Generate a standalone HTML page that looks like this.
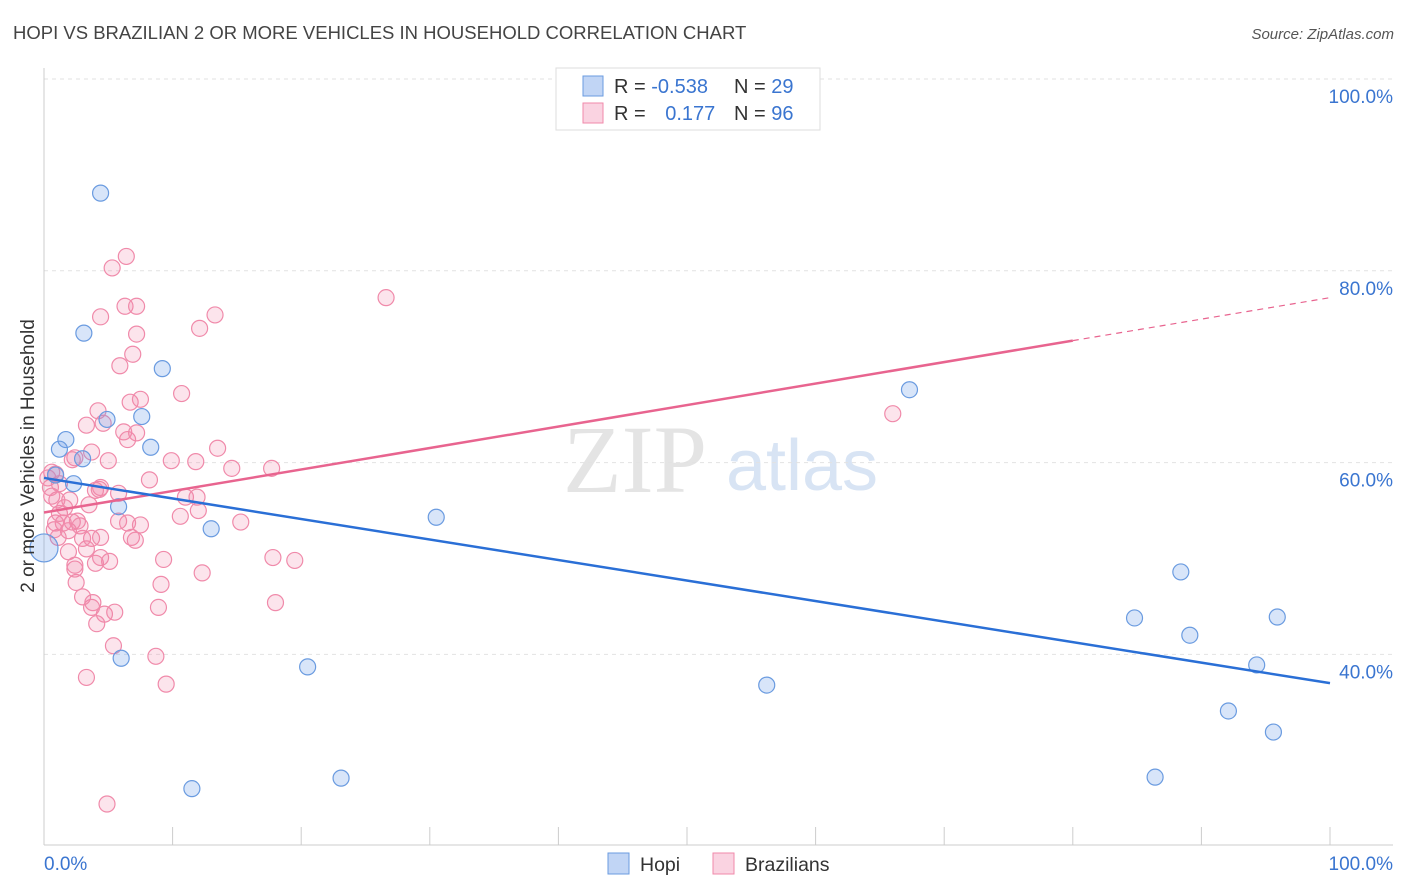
<!DOCTYPE html>
<html><head><meta charset="utf-8"><style>
body{margin:0;background:#fff;font-family:"Liberation Sans",sans-serif;}
svg{display:block}
</style></head><body>
<svg id="chart" width="1406" height="892" xmlns="http://www.w3.org/2000/svg">
<text x="13" y="39" font-size="18.5" fill="#444">HOPI VS BRAZILIAN 2 OR MORE VEHICLES IN HOUSEHOLD CORRELATION CHART</text>
<text x="1394" y="39" font-size="15" fill="#555" font-style="italic" text-anchor="end">Source: ZipAtlas.com</text>
<g>
<text x="635" y="492" font-size="96" fill="#e4e4e4" text-anchor="middle" font-family="Liberation Serif,serif">ZIP</text>
<text x="802" y="490" font-size="72" fill="#d8e4f4" text-anchor="middle">atlas</text>
</g>
<g id="grid"></g>
<g id="axes"></g>
<g id="marks"></g>
<text transform="translate(34,456) rotate(-90)" font-size="19" fill="#333" text-anchor="middle">2 or more Vehicles in Household</text>
<text x="44" y="870" font-size="19" fill="#3a75d0">0.0%</text>
<text x="1393" y="870" font-size="19" fill="#3a75d0" text-anchor="end">100.0%</text>
<g>
<rect x="556" y="68" width="264" height="62" fill="#fff" stroke="#ddd"/>
<rect x="583" y="76" width="20" height="20" fill="rgba(100,150,230,0.4)" stroke="#6a9be0"/>
<rect x="583" y="103" width="20" height="20" fill="rgba(240,130,170,0.35)" stroke="#f08aaa"/>
<text x="614" y="93" font-size="20" fill="#333">R = <tspan fill="#3a75d0">-0.538</tspan></text>
<text x="734" y="93" font-size="20" fill="#333">N = <tspan fill="#3a75d0">29</tspan></text>
<text x="614" y="120" font-size="20" fill="#333">R = <tspan fill="#3a75d0" dx="14">0.177</tspan></text>
<text x="734" y="120" font-size="20" fill="#333">N = <tspan fill="#3a75d0">96</tspan></text>
</g>
<g>
<rect x="608" y="853" width="21" height="21" fill="rgba(100,150,230,0.4)" stroke="#6a9be0"/>
<text x="640" y="871" font-size="19.5" fill="#333">Hopi</text>
<rect x="713" y="853" width="21" height="21" fill="rgba(240,130,170,0.35)" stroke="#f08aaa"/>
<text x="745" y="871" font-size="19.5" fill="#333">Brazilians</text>
</g>
</svg>
<script>
const yTicks=[40,60,80,100];
const yTickLabels=["40.0%","60.0%","80.0%","100.0%"];
const hopiX=[4.4,3.1,9.2,7.6,4.9,1.7,1.2,8.3,3.0,2.3,0.9,5.8,13.0,0,30.5,6.0,20.5,11.5,23.1,56.2,67.3,88.4,84.8,89.1,95.9,94.3,92.1,95.6,86.4];
const hopiY=[88.1,73.5,69.8,64.8,64.5,62.4,61.4,61.6,60.4,57.8,58.7,55.4,53.1,51.1,54.3,39.6,38.7,26.0,27.1,36.8,67.6,48.6,43.8,42.0,43.9,38.9,34.1,31.9,27.2];
const brazX=[4.9,3.3,9.5,8.7,5.4,4.1,4.7,3.7,5.5,8.9,3.0,3.8,2.5,4.0,2.4,1.9,3.3,4.4,3.7,3.0,4.4,1.1,1.9,2.2,1.5,2.6,0.9,1.2,2.0,3.5,4.3,4.0,1.0,0.6,0.5,1.2,0.9,0.6,2.4,5.0,3.7,4.6,4.2,6.7,7.5,6.2,6.5,7.2,8.2,5.8,6.5,7.5,6.8,7.1,9.3,9.1,12.3,5.8,11.0,11.9,12.0,10.6,9.9,11.8,13.5,14.6,15.3,17.7,17.8,19.5,18.0,10.7,12.1,13.3,7.2,6.9,6.3,7.2,4.4,5.3,6.4,5.9,26.6,66.0,3.3,2.4,1.6,2.8,0.8,5.1,4.4,0.3,2.2];
const brazY=[24.4,37.6,36.9,39.8,40.9,43.2,44.2,44.9,44.4,44.9,46.0,45.4,47.5,49.5,48.9,50.7,51.0,50.1,52.1,52.1,52.2,52.2,52.9,53.8,53.7,53.9,53.7,54.7,56.1,55.6,57.2,57.1,56.1,56.5,57.4,57.8,58.8,59.0,60.5,60.2,61.1,64.1,65.4,66.3,66.6,63.2,62.4,63.1,58.2,53.9,53.7,53.5,52.2,51.9,49.9,47.3,48.5,56.8,56.4,56.4,55.0,54.4,60.2,60.1,61.5,59.4,53.8,59.4,50.1,49.8,45.4,67.2,74.0,75.4,73.4,71.3,76.3,76.3,75.2,80.3,81.5,70.1,77.2,65.1,63.9,49.3,55.3,53.4,53.0,49.7,57.4,58.4,60.3];
const hopiBig=[0,0,0,0,0,0,0,0,0,0,0,0,0,1,0,0,0,0,0,0,0,0,0,0,0,0,0,0,0];
const hopiTrend=[58.4,37.0];
const brazTrend=[54.8,77.2];
const brazSolidEnd=80;
const NS="http://www.w3.org/2000/svg";
const X=v=>44+v*12.86, Y=v=>1038-v*9.59;
function mk(tag,attrs,parent){const e=document.createElementNS(NS,tag);for(const k in attrs)e.setAttribute(k,attrs[k]);parent.appendChild(e);return e;}
const grid=document.getElementById('grid'),axes=document.getElementById('axes'),marks=document.getElementById('marks');
yTicks.forEach((t,i)=>{
 const l=mk('line',{x1:44,x2:1393,y1:Y(t),y2:Y(t),stroke:'#e2e2e2','stroke-dasharray':'4,4'},grid);
 
 
 const tx=mk('text',{x:1393,y:Y(t)+24,'font-size':19,fill:'#3a75d0','text-anchor':'end'},grid);
 tx.textContent=yTickLabels[i];
 
 
});
const ax=mk('line',{x1:44,x2:1393,y1:845,y2:845,stroke:'#ccc'},axes);


const ay=mk('line',{x1:44,x2:44,y1:68,y2:845,stroke:'#ccc'},axes);


for(let i=0;i<=10;i++){
 const t=mk('line',{x1:X(i*10),x2:X(i*10),y1:827,y2:845,stroke:'#ccc'},axes);
 
 
}
brazX.forEach((x,i)=>{
 const c=mk('circle',{cx:X(x),cy:Y(brazY[i]),r:8,fill:'rgba(240,130,170,0.22)',stroke:'#f08aaa','stroke-width':1.2},marks);
 
 
});
hopiX.forEach((x,i)=>{
 const c=mk('circle',{cx:X(x),cy:Y(hopiY[i]),r:hopiBig[i]?14:8,fill:'rgba(100,150,230,0.25)',stroke:'#6a9be0','stroke-width':1.2},marks);
 
 
});
const by=x=>brazTrend[0]+(brazTrend[1]-brazTrend[0])*x/100;
const p1=mk('line',{x1:X(0),y1:Y(by(0)),x2:X(brazSolidEnd),y2:Y(by(brazSolidEnd)),stroke:'#e8648f','stroke-width':2.5},marks);


const p2=mk('line',{x1:X(brazSolidEnd),y1:Y(by(brazSolidEnd)),x2:X(100),y2:Y(by(100)),stroke:'#e8648f','stroke-width':1.2,'stroke-dasharray':'6,5'},marks);


const h=mk('line',{x1:X(0),y1:Y(hopiTrend[0]),x2:X(100),y2:Y(hopiTrend[1]),stroke:'#2a6fd6','stroke-width':2.5},marks);


</script>
</body></html>
